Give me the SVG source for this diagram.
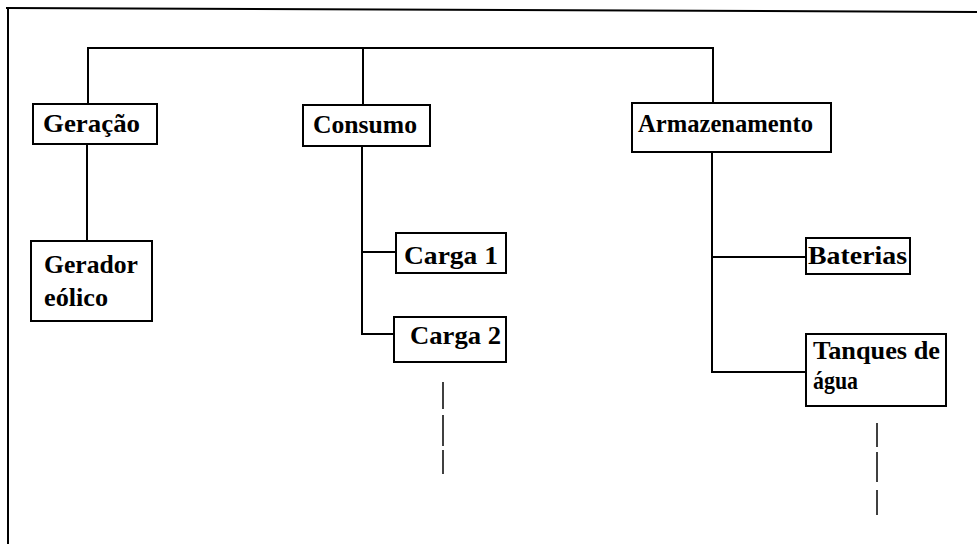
<svg xmlns="http://www.w3.org/2000/svg" width="977" height="544" viewBox="0 0 977 544">
<style>
  .box { fill: #ffffff; stroke: #000000; stroke-width: 2; }
  .ln { fill: none; stroke: #000000; stroke-width: 2; }
  .dash { fill: none; stroke: #000000; stroke-width: 1.5; }
  .lbl { font-family: "Liberation Serif", "Times New Roman", serif; font-weight: bold; font-size: 26px; fill: #000000; }
</style>
<rect x="0" y="0" width="977" height="544" fill="#ffffff"/>
<g id="frame">
  <line class="ln" x1="6" y1="8" x2="977" y2="12"/>
  <line class="ln" x1="8" y1="7" x2="8" y2="544"/>
</g>
<g id="connectors">
  <polyline class="ln" points="88,104 88,48 713,48 713,103"/>
  <line class="ln" x1="363" y1="48" x2="363" y2="105"/>
  <line class="ln" x1="87" y1="144" x2="87" y2="241"/>
  <polyline class="ln" points="362,146 362,334 394,334"/>
  <line class="ln" x1="362" y1="252" x2="396" y2="252"/>
  <polyline class="ln" points="712,152 712,372 806,372"/>
  <line class="ln" x1="712" y1="257" x2="806" y2="257"/>
  <g id="dash-carga">
    <line class="dash" x1="443" y1="382" x2="443" y2="409"/>
    <line class="dash" x1="443" y1="415" x2="443" y2="446"/>
    <line class="dash" x1="443" y1="450" x2="443" y2="474"/>
  </g>
  <g id="dash-tanques">
    <line class="dash" x1="877" y1="423" x2="877" y2="447"/>
    <line class="dash" x1="877" y1="452" x2="877" y2="482"/>
    <line class="dash" x1="877" y1="490" x2="877" y2="515"/>
  </g>
</g>
<g id="geracao">
  <rect class="box" x="33" y="104" width="124" height="40"/>
  <text class="lbl" x="43" y="132" textLength="97" lengthAdjust="spacingAndGlyphs">Geração</text>
</g>
<g id="consumo">
  <rect class="box" x="303" y="105" width="127" height="41"/>
  <text class="lbl" x="313" y="133" textLength="104" lengthAdjust="spacingAndGlyphs">Consumo</text>
</g>
<g id="armazenamento">
  <rect class="box" x="632" y="103" width="199" height="49"/>
  <text class="lbl" x="638" y="132" textLength="175" lengthAdjust="spacingAndGlyphs">Armazenamento</text>
</g>
<g id="gerador-eolico">
  <rect class="box" x="31" y="241" width="121" height="80"/>
  <text class="lbl" x="44" y="273" textLength="94" lengthAdjust="spacingAndGlyphs">Gerador</text>
  <text class="lbl" x="44" y="306" textLength="64" lengthAdjust="spacingAndGlyphs">eólico</text>
</g>
<g id="carga1">
  <rect class="box" x="396" y="233" width="110" height="40"/>
  <text class="lbl" x="404" y="264" textLength="94" lengthAdjust="spacingAndGlyphs">Carga 1</text>
</g>
<g id="carga2">
  <rect class="box" x="394" y="317" width="112" height="45"/>
  <text class="lbl" x="410" y="344" textLength="91" lengthAdjust="spacingAndGlyphs">Carga 2</text>
</g>
<g id="baterias">
  <rect class="box" x="806" y="238" width="104" height="36"/>
  <text class="lbl" x="808" y="264" textLength="99" lengthAdjust="spacingAndGlyphs">Baterias</text>
</g>
<g id="tanques">
  <rect class="box" x="806" y="334" width="140" height="72"/>
  <text class="lbl" x="813" y="359" textLength="127" lengthAdjust="spacingAndGlyphs">Tanques de</text>
  <text class="lbl" x="813" y="389" textLength="45" lengthAdjust="spacingAndGlyphs">água</text>
</g>
</svg>
